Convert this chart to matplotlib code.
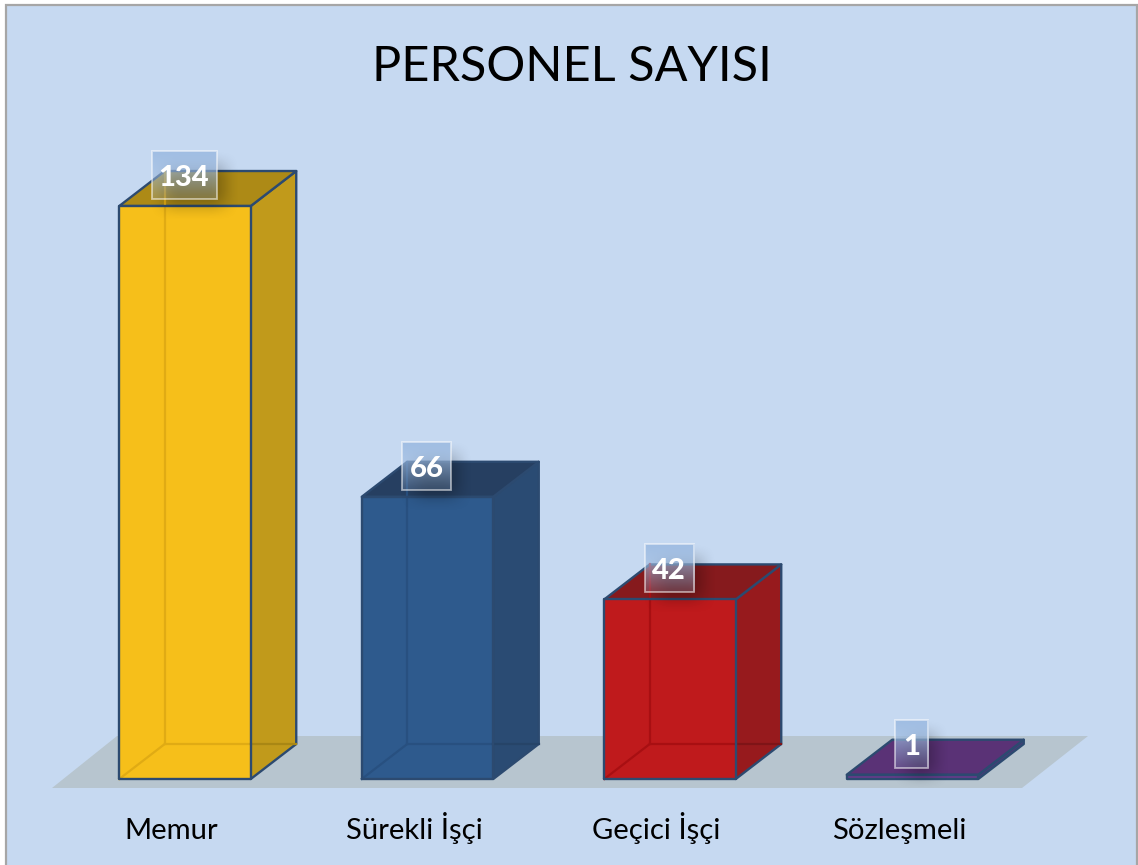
import numpy as np
from matplotlib import pyplot as plt
from matplotlib.patches import Polygon, Rectangle

title = "PERSONEL SAYISI"
categories = ["Memur", "Sürekli İşçi", "Geçici İşçi", "Sözleşmeli"]
values = [134, 66, 42, 1]

front_colors = ["#f6bf1a", "#2e5a8d", "#bf1a1c", "#6a3a8c"]
side_colors = ["#c19a1b", "#2a4b73", "#971a1d", "#4a3a78"]
top_colors = ["#ad8a16", "#263f61", "#861a1d", "#5a3276"]
inner_colors = ["#e0ab14", "#285080", "#a80f12", "#4e2a70"]
inner_side_colors = ["#a98714", "#264468", "#7f1417", "#4e2a70"]

W, H = 1138, 865
BG = "#c6d9f1"
EDGE = "#2c4a70"
plt.rcParams["font.family"] = ["Lato", "DejaVu Sans"]

# pixels per category / per value, bars start at px (185, 779)
UX, UY = 242.5, 4.276
X0, Y0 = 185, 779
BAR_W = 131.5 / UX
DX, DY = 45.5 / UX, 35 / UY


def fx(p):
    return (p - X0) / UX


def fy(p):
    return (Y0 - p) / UY


def ramp(t):
    t = np.clip(t, 0, 1)
    return t * t * (3 - 2 * t)


fig = plt.figure(figsize=(W / 100, H / 100), dpi=100, facecolor="white")
ax = fig.add_axes([0, 0, 1, 1])
ax.set_xlim(fx(0), fx(W))
ax.set_ylim(fy(H), fy(0))
ax.axis("off")

# chart area with its grey border
ax.add_patch(Rectangle((fx(6), fy(H + 5)), (W - 7) / UX, (H + 5 - 5) / UY, fc=BG, ec="#a6a6a6", lw=1.6, zorder=1))

# floor
ax.add_patch(Polygon([(fx(52), fy(788)), (fx(1022), fy(788)), (fx(1088), fy(736)), (fx(117), fy(736))],
                     fc="#b7c5cf", ec="none", zorder=2))


def soft_box(x0, x1, y0, y1, blur, alpha):
    # blurred shadow as an RGBA image, extent in pixels
    xs = np.arange(x0 - blur, x1 + blur)
    ys = np.arange(y0 - blur, y1 + blur)
    wx = ramp((xs - x0 + blur) / (2 * blur)) * ramp((x1 + blur - xs) / (2 * blur))
    wy = ramp((ys - y0 + blur) / (2 * blur)) * ramp((y1 + blur - ys) / (2 * blur))
    img = np.zeros((len(ys), len(xs), 4))
    img[..., 3] = np.outer(wy, wx) * alpha
    ax.imshow(img, extent=(fx(x0 - blur), fx(x1 + blur), fy(y1 + blur), fy(y0 - blur)),
              aspect="auto", zorder=6, interpolation="bilinear")


for i, (cat, val) in enumerate(zip(categories, values)):
    l, r = i - BAR_W / 2, i + BAR_W / 2

    # hidden back edges showing through, drawn under the outline
    if val > 5:
        ax.plot([l + DX, l + DX], [DY, val + DY], color=inner_colors[i], lw=1.6, zorder=4.5)
        ax.plot([l, l + DX], [0, DY], color=inner_colors[i], lw=1.6, zorder=4.5)
        ax.plot([l + DX, r], [DY, DY], color=inner_colors[i], lw=1.6, zorder=4.5)
        ax.plot([r, r + DX], [DY, DY], color=inner_side_colors[i], lw=1.6, zorder=4.5)

    ax.add_patch(Polygon([(r, 0), (r + DX, DY), (r + DX, val + DY), (r, val)], fc=side_colors[i],
                         ec=EDGE, lw=1.7, zorder=3, joinstyle="round"))
    ax.add_patch(Polygon([(l, val), (r, val), (r + DX, val + DY), (l + DX, val + DY)], fc=top_colors[i],
                         ec=EDGE, lw=1.7, zorder=3, joinstyle="round"))
    ax.add_patch(Rectangle((l, 0), BAR_W, val, fc=front_colors[i], ec="none", zorder=4))
    ax.add_patch(Rectangle((l, 0), BAR_W, val, fc="none", ec=EDGE, lw=1.7, zorder=5, joinstyle="round"))

    # value label box, sits on the back edge of the bar
    px_c = X0 + UX * i - 1
    px_y = Y0 - UY * val - 31
    bw = 17 + 16 * len(str(val))
    bh = 48
    bx0, bx1 = px_c - bw / 2, px_c + bw / 2
    by0, by1 = px_y - bh / 2, px_y + bh / 2
    soft_box(bx0 + 12, bx1 + 6, by0 + 14, by1 + 6, 16, 0.3)

    grad = np.ones((48, 1, 4))
    grad[..., 0], grad[..., 1], grad[..., 2] = 0.62, 0.74, 0.89
    grad[..., 3] = np.linspace(0.95, 0.22, 48)[:, None]
    ax.imshow(grad, extent=(fx(bx0), fx(bx1), fy(by1), fy(by0)), aspect="auto", zorder=7)
    ax.add_patch(Rectangle((fx(bx0), fy(by1)), bw / UX, bh / UY, fc="none", ec="white", alpha=0.55, lw=1.3, zorder=8))
    ax.text(fx(px_c), fy(px_y + 3), str(val), color="white", fontsize=21, fontweight="black",
            ha="center", va="center", zorder=9)

    ax.text(i + fx(X0 - 13.5), fy(839), cat, color="black", fontsize=21.1, ha="center", va="baseline", zorder=9)

ax.set_xlim(fx(0), fx(W))
ax.set_ylim(fy(H), fy(0))

ax.text(fx(572), fy(81), title, color="black", fontsize=35, ha="center", va="baseline", zorder=9)

fig.savefig("out.png", dpi=100)
plt.close()
